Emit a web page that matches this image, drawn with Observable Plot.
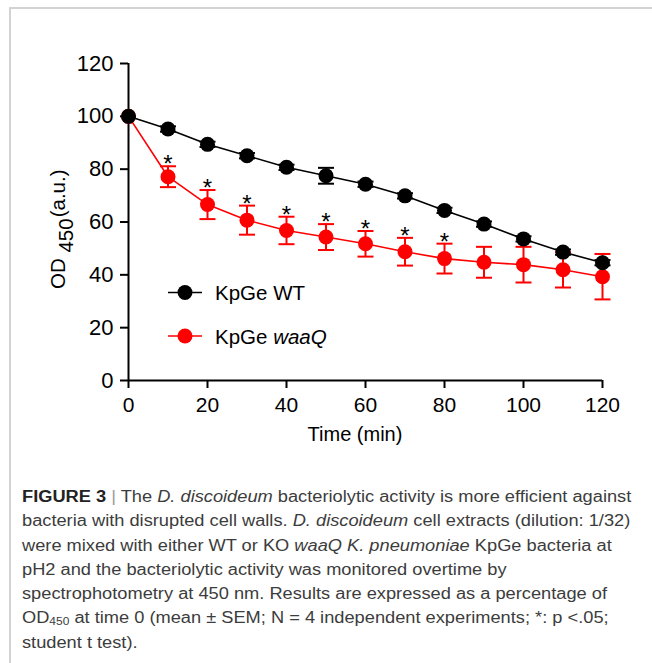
<!DOCTYPE html>
<html><head><meta charset="utf-8">
<script src="https://cdn.jsdelivr.net/npm/d3@7"></script>
<script src="https://cdn.jsdelivr.net/npm/@observablehq/plot@0.6"></script>
<style>
html,body{margin:0;padding:0;background:#fff;}
body{width:652px;height:663px;position:relative;overflow:hidden;font-family:"Liberation Sans",Arial,Helvetica,sans-serif;}
#frame{position:absolute;left:9px;top:7px;width:700px;height:700px;border-top:2px solid #d3d3d3;border-left:2px solid #d3d3d3;}
#chart{position:absolute;left:0;top:0;}
#caption{position:absolute;left:22px;top:485px;font-size:16px;line-height:24.3px;color:#3c3c3c;white-space:nowrap;transform:scaleX(1.14);transform-origin:0 0;}
#caption b{color:#222;}
#caption .sep{color:#999;}
#caption sub{font-size:10.5px;line-height:0;vertical-align:-2px;}
</style></head><body>
<div id="frame"></div><div id="chart"></div>
<div id="caption">
<div><b>FIGURE 3</b> <span class="sep">|</span> The <i>D. discoideum</i> bacteriolytic activity is more efficient against</div>
<div>bacteria with disrupted cell walls. <i>D. discoideum</i> cell extracts (dilution: 1/32)</div>
<div>were mixed with either WT or KO <i>waaQ K. pneumoniae</i> KpGe bacteria at</div>
<div>pH2 and the bacteriolytic activity was monitored overtime by</div>
<div>spectrophotometry at 450 nm. Results are expressed as a percentage of</div>
<div>OD<sub>450</sub> at time 0 (mean ± SEM; N = 4 independent experiments; *: p &lt;.05;</div>
<div>student t test).</div>
</div>
<script>
const times = [0, 10, 20, 30, 40, 50, 60, 70, 80, 90, 100, 110, 120];
const wtMean = [100, 95.2, 89.4, 85.1, 80.7, 77.5, 74.3, 69.9, 64.4, 59.2, 53.6, 48.6, 44.6];
const wtSem = [0, 1, 1, 1, 1, 3, 1, 1, 1, 1, 1, 1, 1];
const waaqMean = [100, 77.15, 66.6, 60.7, 56.8, 54.3, 51.75, 48.75, 46.15, 44.75, 43.85, 41.9, 39.3];
const waaqSem = [0, 3.95, 5.5, 5.5, 5.2, 4.9, 4.85, 5.25, 5.65, 5.85, 6.75, 6.7, 8.6];
const significant = [false, true, true, true, true, true, true, true, true, false, false, false, false];
const xTicks = [0, 20, 40, 60, 80, 100, 120];
const yTicks = [0, 20, 40, 60, 80, 100, 120];
const seriesNames = ["KpGe WT", "KpGe waaQ"];
const seriesColors = ["#000000", "#ff0000"];

const wt = times.map((t, i) => ({t, v: wtMean[i], e: wtSem[i]}));
const ko = times.map((t, i) => ({t, v: waaqMean[i], e: waaqSem[i], sig: significant[i]}));

const capSymbol = {draw(ctx, size) { const r = Math.sqrt(size / Math.PI); ctx.moveTo(-r, 0); ctx.lineTo(r, 0); }};

function seriesMarks(data, color) {
  const withErr = data.filter(d => d.e > 0);
  return [
    Plot.line(data, {x: "t", y: "v", stroke: color, strokeWidth: 1.6}),
    Plot.ruleX(withErr, {x: "t", y1: d => d.v - d.e, y2: d => d.v + d.e, stroke: color, strokeWidth: 2}),
    Plot.dot(withErr, {x: "t", y: d => d.v + d.e, symbol: capSymbol, r: 8, stroke: color, strokeWidth: 2}),
    Plot.dot(withErr, {x: "t", y: d => d.v - d.e, symbol: capSymbol, r: 8, stroke: color, strokeWidth: 2}),
    Plot.dot(data, {x: "t", y: "v", r: 7.5, fill: color, stroke: "none"})
  ];
}

const plot = Plot.plot({
  width: 652, height: 460,
  marginLeft: 128, marginRight: 50, marginTop: 63, marginBottom: 80,
  style: {fontFamily: '"Liberation Sans", Arial, Helvetica, sans-serif', fontSize: "20px", color: "#000", background: "transparent", overflow: "visible"},
  x: {domain: [0, 120], label: null},
  y: {domain: [0, 120], label: null},
  marks: [
    Plot.axisX({ticks: xTicks, tickSize: 8, tickPadding: 9, fontSize: 21, label: null, strokeWidth: 2}),
    Plot.axisY({ticks: yTicks, tickSize: 8, tickPadding: 7, fontSize: 22, label: null, strokeWidth: 2}),
    Plot.ruleX([0], {y1: 0, y2: 120, strokeWidth: 2}),
    Plot.ruleY([0], {x1: 0, x2: 120, strokeWidth: 2}),
    ...seriesMarks(ko, seriesColors[1]),
    Plot.text(ko.filter(d => d.sig), {x: "t", y: d => d.v + d.e, text: () => "*", lineAnchor: "bottom", dy: 6, fontSize: 24}),
    ...seriesMarks(wt, seriesColors[0])
  ]
});
document.getElementById("chart").appendChild(plot);

const svg = d3.select(plot);
// axis titles
svg.append("text").attr("x", 355).attr("y", 441).attr("text-anchor", "middle")
  .attr("font-size", 20).attr("fill", "#000").text("Time (min)");
const yl = svg.append("text").attr("transform", "translate(65,289) rotate(-90)")
  .attr("text-anchor", "start").attr("font-size", 20.5).attr("fill", "#000");
yl.append("tspan").text("OD ");
yl.append("tspan").attr("dy", 8).text("450");
yl.append("tspan").attr("dy", -8).attr("dx", 1).text("(a.u.)");

// legend
const lg = svg.append("g");
seriesNames.forEach((name, i) => {
  const cy = 292.5 + i * 43.5;
  const c = seriesColors[i];
  lg.append("line").attr("x1", 168).attr("x2", 202).attr("y1", cy).attr("y2", cy).attr("stroke", c).attr("stroke-width", 1.6);
  lg.append("circle").attr("cx", 185).attr("cy", cy).attr("r", 7.5).attr("fill", c);
  const t = lg.append("text").attr("x", 215).attr("y", cy + 7.5).attr("text-anchor", "start")
    .attr("font-size", 20.5).attr("fill", "#000");
  const parts = name.split(" ");
  t.append("tspan").text(parts[0] + " ");
  const s = t.append("tspan").text(parts[1]);
  if (i === 1) s.attr("font-style", "italic");
});
</script>
</body></html>
